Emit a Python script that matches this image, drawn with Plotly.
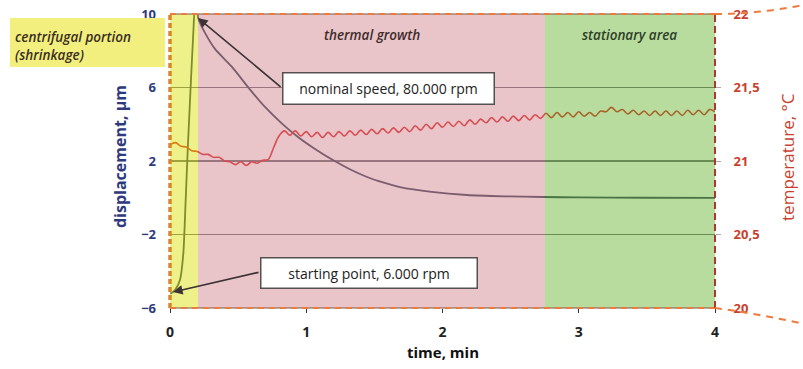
import numpy as np
import plotly.graph_objects as go

# ---------------- data ----------------
disp_time = [0.0, 0.012, 0.037, 0.073, 0.098, 0.115, 0.13, 0.147, 0.171, 0.185, 0.197,
             0.206, 0.257, 0.33, 0.455, 0.58, 0.697, 0.82, 0.939, 1.07, 1.196, 1.32,
             1.446, 1.57, 1.688, 1.92, 2.18, 2.45, 2.738, 3.0, 3.5, 4.0]
disp_um = [-5.2, -5.18, -5.02, -4.48, -3.01, -0.12, 2.6, 5.32, 8.97, 10.5, 10.4,
           9.8, 8.97, 8.1, 7.12, 5.95, 4.94, 4.05, 3.31, 2.63, 2.05, 1.55,
           1.13, 0.82, 0.58, 0.32, 0.15, 0.08, 0.04, 0.02, 0.0, -0.01]

temp_time = np.linspace(0, 4, 101)
temp_c = [21.11, 21.125, 21.10, 21.095, 21.07, 21.065, 21.045, 21.045, 21.025, 21.025,
          21.00, 20.995, 20.975, 20.995, 20.97, 20.995, 20.985, 21.005, 21.01, 21.09,
          21.17, 21.205, 21.175, 21.205, 21.17, 21.20, 21.165, 21.195, 21.16, 21.195,
          21.165, 21.20, 21.17, 21.205, 21.175, 21.21, 21.18, 21.215, 21.185, 21.22,
          21.19, 21.225, 21.195, 21.23, 21.20, 21.24, 21.21, 21.25, 21.22, 21.26,
          21.23, 21.265, 21.235, 21.27, 21.24, 21.28, 21.25, 21.285, 21.26, 21.295,
          21.265, 21.30, 21.27, 21.305, 21.275, 21.31, 21.28, 21.315, 21.29, 21.325,
          21.295, 21.33, 21.30, 21.33, 21.30, 21.335, 21.305, 21.33, 21.305, 21.34,
          21.335, 21.365, 21.335, 21.35, 21.32, 21.345, 21.315, 21.34, 21.31, 21.34,
          21.31, 21.34, 21.31, 21.34, 21.31, 21.345, 21.315, 21.345, 21.315, 21.35,
          21.335]

disp_ticks = [-6, -2, 2, 6, 10]
temp_ticks = [20, 20.5, 21, 21.5, 22]
time_ticks = [0, 1, 2, 3, 4]

# phases (minutes)
phase_names = ["thermal growth", "stationary area"]
phase_bounds = [0.0, 0.206, 2.752, 4.0]

FONT = "Open Sans"
NAVY = "#2E3A7C"
RED = "#C8412E"

fig = go.Figure()
fig.add_trace(go.Scatter(x=disp_time, y=disp_um, mode="lines",
                         line=dict(color="#23304a", width=1.8, shape="spline", smoothing=0.6),
                         showlegend=False, hoverinfo="skip"))
fig.add_trace(go.Scatter(x=temp_time, y=temp_c, mode="lines", yaxis="y2",
                         line=dict(color="#DB1010", width=1.6, shape="spline", smoothing=1),
                         showlegend=False, hoverinfo="skip"))

shapes = []
# coloured phase overlays (semi-transparent, drawn above the traces)
fills = ["rgba(222,228,20,0.5)", "rgba(211,137,145,0.5)", "rgba(113,183,61,0.5)"]
for i in range(3):
    shapes.append(dict(type="rect", xref="x", yref="paper", x0=phase_bounds[i], x1=phase_bounds[i + 1],
                       y0=0, y1=1, fillcolor=fills[i], line=dict(width=0), layer="above"))
# plot frame
for (x0, y0, x1, y1) in [(0, 1, 1, 1), (0, 0, 1, 0)]:
    shapes.append(dict(type="line", xref="paper", yref="paper", x0=x0, y0=y0, x1=x1, y1=y1,
                       line=dict(color="#6a5a50", width=1.2), layer="above"))
    shapes.append(dict(type="line", xref="paper", yref="paper", x0=x0, y0=y0, x1=x1, y1=y1,
                       line=dict(color="#EE7A3C", width=2.2, dash="6px,5px"), layer="above"))
shapes.append(dict(type="line", xref="paper", yref="paper", x0=0, y0=0, x1=0, y1=1,
                   line=dict(color="#D8862A", width=3.5, dash="5px,3px"), layer="above"))
shapes.append(dict(type="line", xref="paper", yref="paper", x0=1, y0=0, x1=1, y1=1,
                   line=dict(color="#B5352A", width=2, dash="7px,4px"), layer="above"))
# zoom lens guide lines on the right
shapes.append(dict(type="path", xref="paper", yref="paper",
                   path="M 1,1 Q 1.08,1.0 1.165,1.032",
                   line=dict(color="#EE7A3C", width=2, dash="7px,6px"), layer="above"))
shapes.append(dict(type="path", xref="paper", yref="paper",
                   path="M 1,0 Q 1.08,-0.02 1.165,-0.055",
                   line=dict(color="#EE7A3C", width=2, dash="7px,6px"), layer="above"))
# yellow label box on the left
shapes.append(dict(type="rect", xref="paper", yref="paper", x0=-0.2936, x1=-0.0092, y0=0.8197, y1=0.986,
                   fillcolor="#F3EF7E", line=dict(width=0), layer="above"))

ann = []
ann.append(dict(text="centrifugal portion<br>(shrinkage)", xref="paper", yref="paper", x=-0.288, y=0.891,
                xanchor="left", yanchor="middle", align="left", showarrow=False,
                font=dict(family=FONT, size=13.5, color="#3a2e22", style="italic", weight=600)))
ann.append(dict(text=phase_names[0], x=1.479, xref="x", yref="paper", y=0.9286, showarrow=False,
                xanchor="center", yanchor="middle",
                font=dict(family=FONT, size=13.5, color="#3e2c2c", style="italic", weight=600)))
ann.append(dict(text=phase_names[1], x=3.369, xref="x", yref="paper", y=0.9286, showarrow=False,
                xanchor="center", yanchor="middle",
                font=dict(family=FONT, size=13.5, color="#2e3e28", style="italic", weight=600)))
# arrows
ann.append(dict(text="", x=0.206, y=9.78, xref="x", yref="y", ax=84, ay=70,
                showarrow=True, arrowhead=2, arrowsize=1.2, arrowwidth=1.6, arrowcolor="#3b3335"))
ann.append(dict(text="", x=0.022, y=-5.13, xref="x", yref="y", ax=87, ay=-20,
                showarrow=True, arrowhead=2, arrowsize=1.2, arrowwidth=1.6, arrowcolor="#3b3335"))
# boxes
ann.append(dict(text="nominal speed, 80.000 rpm", x=1.6, xref="x", yref="paper", y=0.748,
                xanchor="center", yanchor="middle",
                showarrow=False, bgcolor="white", bordercolor="#555050", borderwidth=1.5, borderpad=4,
                width=202, height=22, font=dict(family=FONT, size=14, color="#222222")))
ann.append(dict(text="starting point, 6.000 rpm", x=1.46, xref="x", yref="paper", y=0.1207,
                xanchor="center", yanchor="middle",
                showarrow=False, bgcolor="white", bordercolor="#555050", borderwidth=1.5, borderpad=4,
                width=207, height=21, font=dict(family=FONT, size=14, color="#222222")))
# axis titles
ann.append(dict(text="<b>displacement, µm</b>", xref="paper", yref="paper", x=-0.0917, y=0.5136,
                xanchor="center", yanchor="middle",
                textangle=-90, showarrow=False, font=dict(family=FONT, size=16, color=NAVY)))
ann.append(dict(text="temperature, °C", xref="paper", yref="paper", x=1.132, y=0.5136,
                xanchor="center", yanchor="middle",
                textangle=-90, showarrow=False, font=dict(family=FONT, size=17, color=RED)))
ann.append(dict(text="<b>time, min</b>", xref="paper", yref="paper", x=0.5009, y=-0.1497,
                xanchor="center", yanchor="middle",
                showarrow=False, font=dict(family=FONT, size=15, color="#111111")))

fig.update_layout(
    width=803, height=369,
    margin=dict(l=170, r=88, t=14, b=61),
    paper_bgcolor="white", plot_bgcolor="white",
    separators=",.",
    font=dict(family=FONT),
    hovermode=False,
    shapes=shapes, annotations=ann,
    xaxis=dict(range=[0, 4], tickvals=time_ticks, showgrid=False, zeroline=False, showline=False,
               automargin=False, ticklabeloverflow="allow",
               ticks="outside", ticklen=4, tickcolor="#333333", ticklabelstandoff=7,
               tickfont=dict(family=FONT, size=14, color="#222222", weight="bold")),
    yaxis=dict(range=[-6, 10], tickvals=disp_ticks, showgrid=True, gridcolor="#5f6068", gridwidth=1.5,
               automargin=False, ticklabeloverflow="allow",
               zeroline=False, showline=False, ticks="", ticklabelstandoff=13,
               tickfont=dict(family=FONT, size=13, color=NAVY, weight="bold")),
    yaxis2=dict(range=[20, 22], tickvals=temp_ticks, overlaying="y", side="right", showgrid=False,
                automargin=False, ticklabeloverflow="allow",
                zeroline=False, showline=False, ticks="outside", ticklen=5, tickcolor="#aaaaaa",
                ticklabelstandoff=10,
                tickfont=dict(family=FONT, size=13, color=RED, weight="bold")),
)

fig.write_html("out.html", config={"displayModeBar": False, "staticPlot": True},
               post_script="document.body.style.margin='0px';")
